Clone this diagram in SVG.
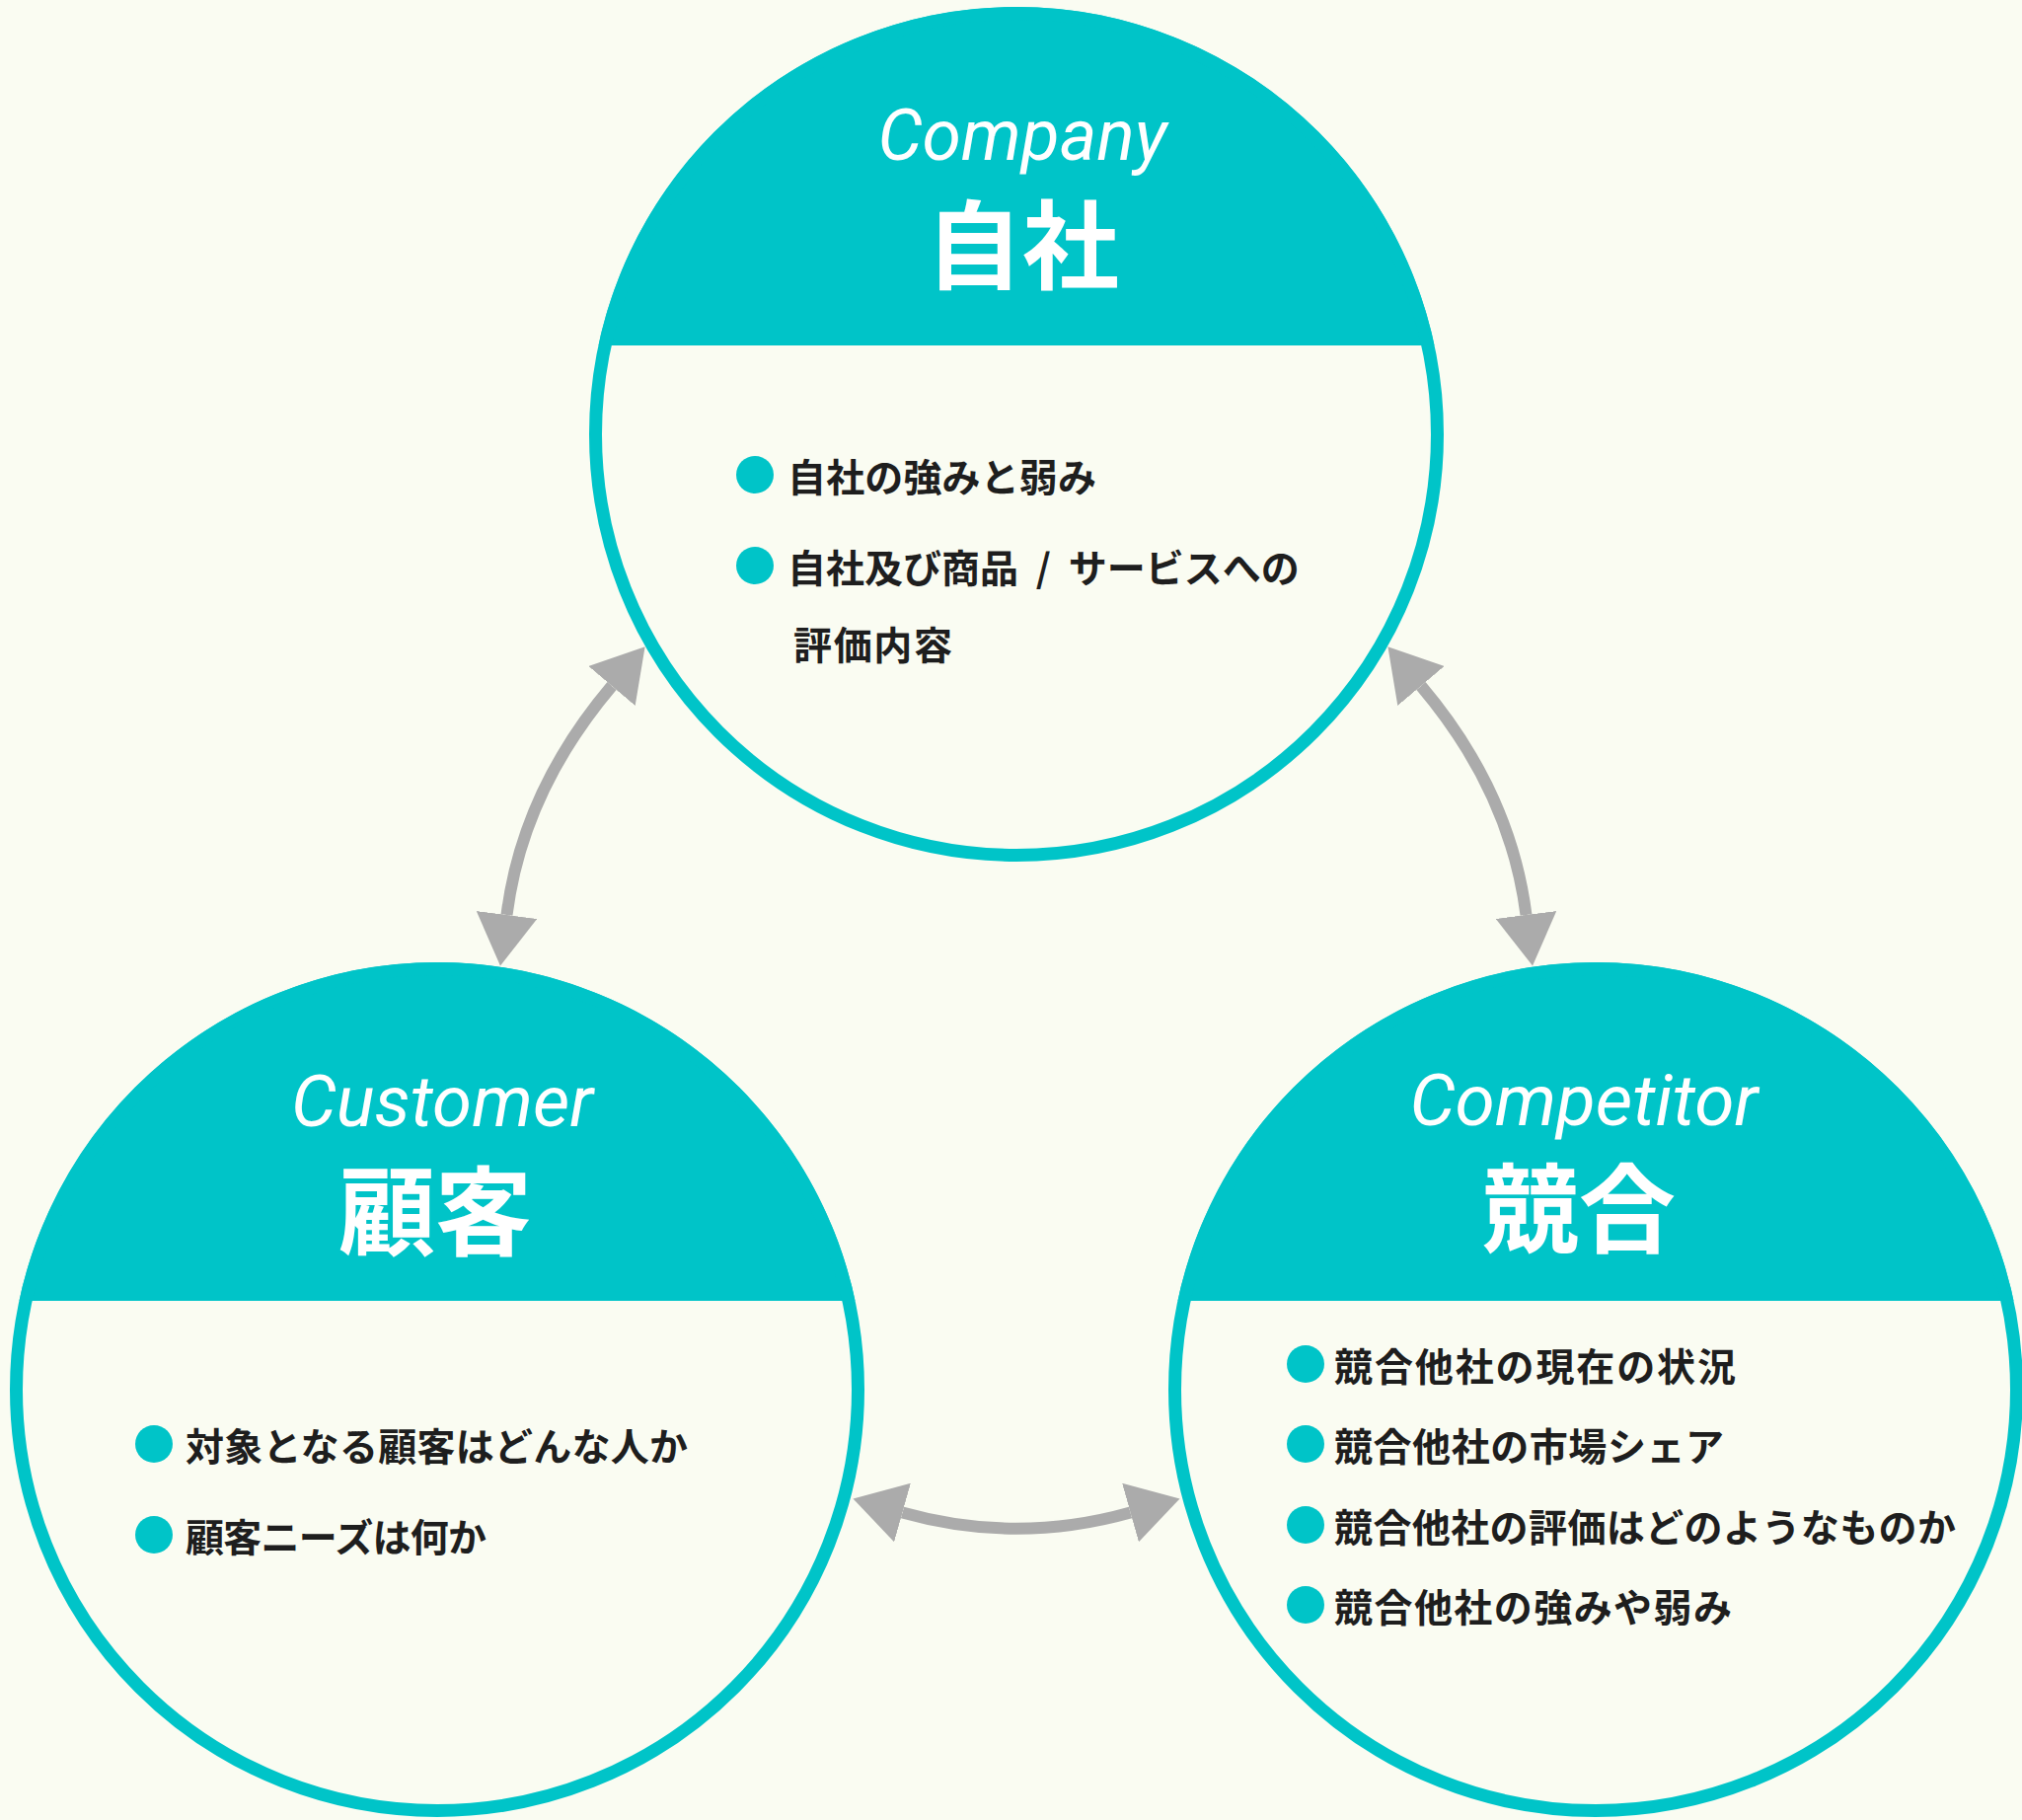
<svg xmlns="http://www.w3.org/2000/svg" width="2049" height="1844" viewBox="0 0 2049 1844">
<defs>
<style>
.bg{fill:#FAFCF2}
.band{fill:#00C4C8}
.ring{fill:none;stroke:#00C4C8;stroke-width:13}
.dot{fill:#00C4C8}
.en{font-family:Roboto,"Liberation Sans",sans-serif;font-style:italic;font-weight:400;font-size:72px;fill:#FFFFFF;text-anchor:middle}
.ttl{font-family:"Noto Sans CJK JP","Noto Sans CJK SC",sans-serif;font-weight:700;font-size:98px;fill:#FFFFFF;text-anchor:middle;dominant-baseline:central}
.item{font-family:"Noto Sans CJK JP","Noto Sans CJK SC",sans-serif;font-weight:700;font-size:39px;fill:#1E1E1E;dominant-baseline:central}
.arrow{fill:none;stroke:#ABABAB;stroke-width:12;marker-start:url(#ah);marker-end:url(#ah)}
</style>
<marker id="ah" markerUnits="userSpaceOnUse" viewBox="0 0 52 62" markerWidth="52" markerHeight="62" refX="0" refY="31" orient="auto-start-reverse">
<path d="M0,0 L52,31 L0,62 Z" fill="#ABABAB"/>
</marker>
<clipPath id="clipTop"><circle cx="1030" cy="440" r="433"/></clipPath>
<clipPath id="clipLeft"><circle cx="443" cy="1408" r="433"/></clipPath>
<clipPath id="clipRight"><circle cx="1617" cy="1408" r="433"/></clipPath>
</defs>
<rect class="bg" x="0" y="0" width="2049" height="1844"/>

<g id="connectors">
<path class="arrow" d="M513.5,927 Q529.4,802 620,695"/>
<path class="arrow" d="M1546.5,927 Q1530.6,802 1440,695"/>
<path class="arrow" d="M914.5,1532.5 Q1030,1565 1145.5,1532.5"/>
</g>

<g id="node-company">
<circle class="bg" cx="1030" cy="440" r="433"/>
<rect class="band" x="590" y="0" width="880" height="350" clip-path="url(#clipTop)"/>
<circle class="ring" cx="1030" cy="440" r="426.5"/>
<text class="en" x="1036" y="162" textLength="293" lengthAdjust="spacingAndGlyphs">Company</text>
<text class="ttl" x="1036" y="242">自社</text>
<circle class="dot" cx="765" cy="481" r="19"/>
<text class="item" x="798" y="481" textLength="313">自社の強みと弱み</text>
<circle class="dot" cx="765" cy="573" r="19"/>
<text class="item" x="798" y="573" word-spacing="9">自社及び商品 / サービスへの</text>
<text class="item" x="804" y="651" textLength="161">評価内容</text>
</g>

<g id="node-customer">
<circle class="bg" cx="443" cy="1408" r="433"/>
<rect class="band" x="0" y="970" width="880" height="348" clip-path="url(#clipLeft)"/>
<circle class="ring" cx="443" cy="1408" r="426.5"/>
<text class="en" x="448" y="1141" textLength="306" lengthAdjust="spacingAndGlyphs">Customer</text>
<text class="ttl" x="441" y="1221">顧客</text>
<circle class="dot" cx="156" cy="1463" r="19"/>
<text class="item" x="188" y="1463" textLength="509">対象となる顧客はどんな人か</text>
<circle class="dot" cx="156" cy="1555" r="19"/>
<text class="item" x="188" y="1555" textLength="305">顧客ニーズは何か</text>
</g>

<g id="node-competitor">
<circle class="bg" cx="1617" cy="1408" r="433"/>
<rect class="band" x="1180" y="970" width="880" height="348" clip-path="url(#clipRight)"/>
<circle class="ring" cx="1617" cy="1408" r="426.5"/>
<text class="en" x="1605" y="1140" textLength="353" lengthAdjust="spacingAndGlyphs">Competitor</text>
<text class="ttl" x="1600" y="1218">競合</text>
<circle class="dot" cx="1323" cy="1382" r="19"/>
<text class="item" x="1352" y="1382" textLength="407">競合他社の現在の状況</text>
<circle class="dot" cx="1323" cy="1463" r="19"/>
<text class="item" x="1352" y="1463" textLength="395">競合他社の市場シェア</text>
<circle class="dot" cx="1323" cy="1545" r="19"/>
<text class="item" x="1352" y="1545" textLength="630">競合他社の評価はどのようなものか</text>
<circle class="dot" cx="1323" cy="1626" r="19"/>
<text class="item" x="1352" y="1626" textLength="403">競合他社の強みや弱み</text>
</g>
</svg>
